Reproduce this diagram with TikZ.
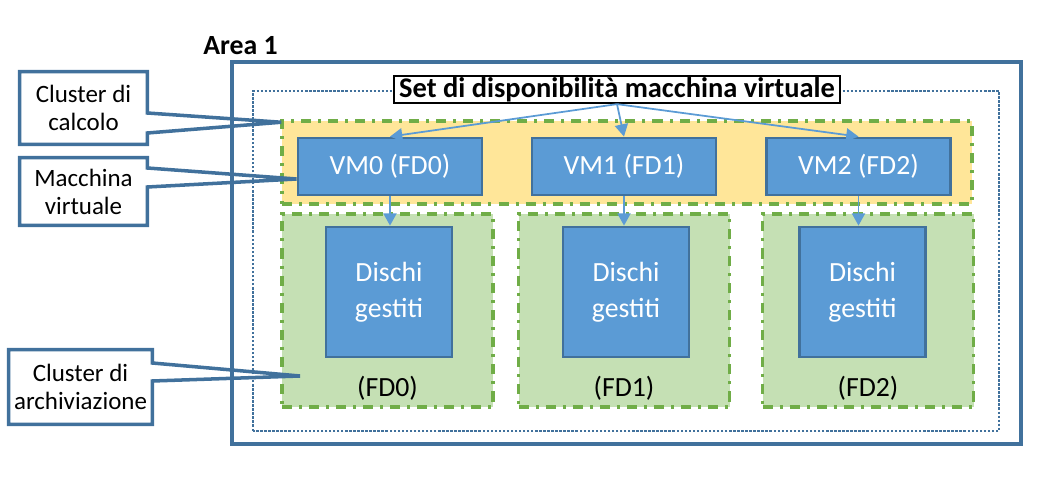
\documentclass[tikz,border=0pt]{standalone}
\usepackage{fontspec}
\setmainfont{Carlito}
\usepackage{tikz}
\usetikzlibrary{calc,arrows.meta}
\definecolor{edgeblue}{RGB}{65,113,156}
\definecolor{vmblue}{RGB}{91,155,213}
\definecolor{bandyellow}{RGB}{255,230,153}
\definecolor{fdgreen}{RGB}{197,224,180}
\definecolor{dashgreen}{RGB}{112,173,71}

\begin{document}
\begin{tikzpicture}[every node/.style={font=\fontsize{15.8}{20.5}\selectfont},
  blockbox/.style={draw=edgeblue, line width=1.6pt, fill=vmblue, text=white, align=center, inner sep=0pt},
  fdzone/.style={draw=dashgreen, line width=2pt, dash pattern=on 5.7pt off 4pt on 1.7pt off 4pt},
  feed/.style={draw=vmblue, line width=1pt, -{Triangle[length=7pt,width=7.5pt]}},
  note/.style={font=\fontsize{14.2}{16}\selectfont, align=center, inner sep=0pt},
  noteline/.style={edgeblue, line width=2pt}]
  \useasboundingbox (0,0) rectangle (21.16,9.64);

  % Area 1 with the dotted availability set inside
  \draw[edgeblue, line width=2pt] (4.64,0.76) rectangle (20.42,8.40);
  \node[font=\fontsize{15.8}{19}\selectfont\bfseries] (area) at (4.81,8.73) {Area 1};
  \draw[edgeblue, line width=1.6pt, dash pattern=on 1.4pt off 0.9pt] (5.06,1.02) rectangle (19.98,7.82);
  \node[draw, fill=white, line width=1.3pt, inner xsep=3pt, inner ysep=0pt, minimum height=0.54cm,
        font=\fontsize{16.2}{19}\selectfont\bfseries] (set) at (12.34,7.85) {Set di disponibilità macchina virtuale};

  % Compute cluster band
  \node[fdzone, fill=bandyellow, minimum width=13.8cm, minimum height=1.66cm] (band) at (12.54,6.39) {};

  % One fault domain per column: storage zone, disks, VM and arrows
  \foreach \i/\zx/\vx/\dx in {0/7.75/7.80/7.78, 1/12.48/12.48/12.52, 2/17.36/17.17/17.25} {
    \node[fdzone, fill=fdgreen, minimum width=4.22cm, minimum height=3.86cm] (zone\i) at (\zx,3.43) {};
    \node[blockbox, minimum width=2.52cm, minimum height=2.6cm] (disk\i) at (\dx,3.80) {Dischi\\gestiti};
    \node (fd\i) at ($(zone\i.south)+(0,0.41)$) {(FD\i)};
    \node[blockbox, minimum width=3.68cm, minimum height=1.14cm] (vm\i) at (\vx,6.31) {VM\i{} (FD\i)};
    \draw[feed] (set.south) -- (vm\i.north);
    \draw[feed] (vm\i.south) -- (vm\i.south |- disk\i.north);
  }

  % Callouts on the left
  \node[note, minimum width=2.54cm, minimum height=1.44cm] (computenote) at (1.67,7.48) {Cluster di\\calcolo};
  \coordinate (computetip) at ($(band.north west)+(0.02,-0.06)$);
  \draw[noteline] (computenote.north west) -- (computenote.north east) -- ($(computenote.east)+(0,-0.10)$)
    -- (computetip) -- ($(computenote.east)+(0,-0.50)$) -- (computenote.south east) -- (computenote.south west) -- cycle;

  \node[note, minimum width=2.54cm, minimum height=1.34cm] (vmnote) at (1.67,5.81) {Macchina\\virtuale};
  \coordinate (vmtip) at ($(vm0.west)+(0,-0.25)$);
  \draw[noteline] (vmnote.north west) -- (vmnote.north east) -- ($(vmnote.east)+(0,0.47)$)
    -- (vmtip) -- ($(vmnote.east)+(0,0.09)$) -- (vmnote.south east) -- (vmnote.south west) -- cycle;

  \node[note, minimum width=2.86cm, minimum height=1.48cm] (storagenote) at (1.61,1.90) {Cluster di\\archiviazione};
  \coordinate (storagetip) at (6.00,2.12);
  \draw[noteline] (storagenote.north west) -- (storagenote.north east) -- ($(storagenote.east)+(0,0.48)$)
    -- (storagetip) -- ($(storagenote.east)+(0,0.12)$) -- (storagenote.south east) -- (storagenote.south west) -- cycle;
\end{tikzpicture}
\end{document}
